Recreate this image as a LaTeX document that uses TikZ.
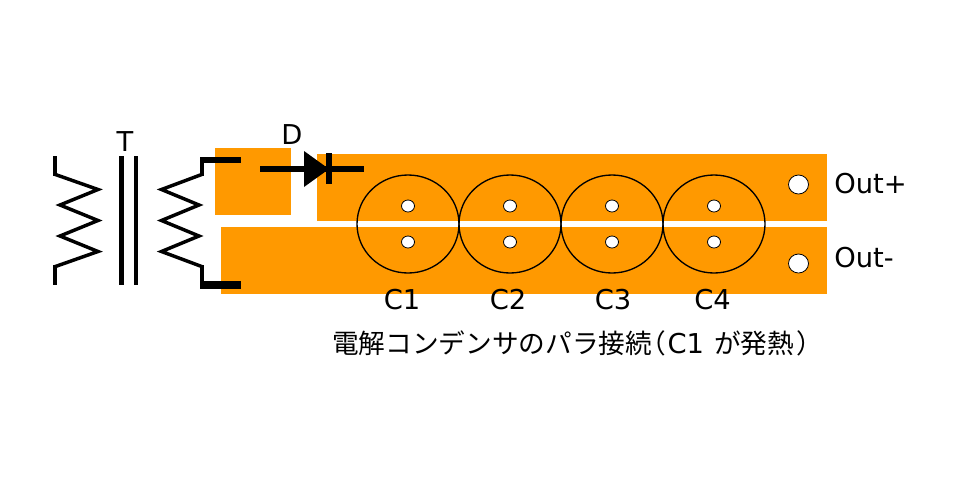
\documentclass[tikz,border=0pt]{standalone}
\usepackage{fontspec}
\setmainfont{DejaVu Sans}
\newfontfamily\cjk{Noto Sans CJK JP}
\newfontfamily\cjkp[RawFeature=+palt]{Noto Sans CJK JP}
\definecolor{pcb}{RGB}{255,153,0}
\tikzset{
  plate/.style={fill=pcb,draw=none},
  capring/.style={draw=black,line width=1pt,fill=none},
  holesmall/.style={draw=black,line width=0.6pt,fill=white},
  wire/.style={line width=#1,draw=black,line cap=butt,line join=miter},
  coil/.style={line width=2.6pt,draw=black,line join=miter,miter limit=10},
  lbl/.style={font=\fontsize{20.5pt}{22pt}\selectfont,inner sep=0pt,text=black}
}
\begin{document}
\begin{tikzpicture}[x=0.75pt,y=-0.75pt]
\useasboundingbox (0,0) rectangle (980,500);
\fill[white] (0,0) rectangle (980,500);
% copper plates
\path[plate] (215,148) rectangle (291,215);
\path[plate] (317,153.5) rectangle (827,221);
\path[plate] (221,227) rectangle (827,294);
% capacitors
\foreach \x in {408,510,612,714}{
  \path[capring] (\x,224) ellipse [x radius=51,y radius=49];
  \path[holesmall] (\x,206) ellipse [x radius=6.5,y radius=6];
  \path[holesmall] (\x,242) ellipse [x radius=6.5,y radius=6];
}
\node[lbl] (c1) at (402,300) {C1};
\node[lbl] (c2) at (508,300) {C2};
\node[lbl] (c3) at (613,300) {C3};
\node[lbl] (c4) at (712.5,300) {C4};
% output holes
\path[holesmall] (798.5,184.5) ellipse [x radius=10,y radius=9.5];
\path[holesmall] (798.5,263.5) ellipse [x radius=10,y radius=9.5];
% transformer primary
\draw[wire=3.6pt] (55,156) -- (55,176);
\draw[wire=3.6pt] (55,265) -- (55,285);
\draw[coil] (54,174) -- (98,189.5) -- (60,205) -- (98,220.5) -- (60,236) -- (98,251.5) -- (54,267);
% core
\draw[wire=3.7pt] (121.5,156) -- (121.5,285);
\draw[wire=3.2pt] (136,156) -- (136,285);
% transformer secondary
\draw[coil] (203,174) -- (161.5,189.5) -- (199,205) -- (161.5,220.5) -- (199,236) -- (161.5,251.5) -- (203,267);
\draw[wire=3.2pt] (202,176) -- (202,158);
\draw[wire=4.8pt] (200,160) -- (241,160);
\draw[wire=3.2pt] (202,265) -- (202,285);
\draw[wire=6pt] (200,285) -- (241,285);
% diode
\draw[wire=4.8pt] (260,169) -- (364,169);
\fill[black] (304,151) -- (304,187) -- (329,169) -- cycle;
\draw[wire=4pt] (329,153) -- (329,184);
% labels
\node[lbl] (T) at (125,141.5) {T};
\node[lbl] (D) at (292,135) {D};
\node[lbl,anchor=west] (op) at (834,184) {Out+};
\node[lbl,anchor=west] (om) at (834,258) {Out-};
\node[inner sep=0pt,anchor=west,font=\fontsize{20pt}{22pt}\cjk] (captxt) at (332,343) {電解コンデンサのパラ接続{\cjkp（}\hspace{1.5pt}{\fontsize{20.5pt}{22pt}\rmfamily C1}\hspace{7.5pt}が発熱\hspace{2.5pt}{\cjkp）}};
\end{tikzpicture}
\end{document}
